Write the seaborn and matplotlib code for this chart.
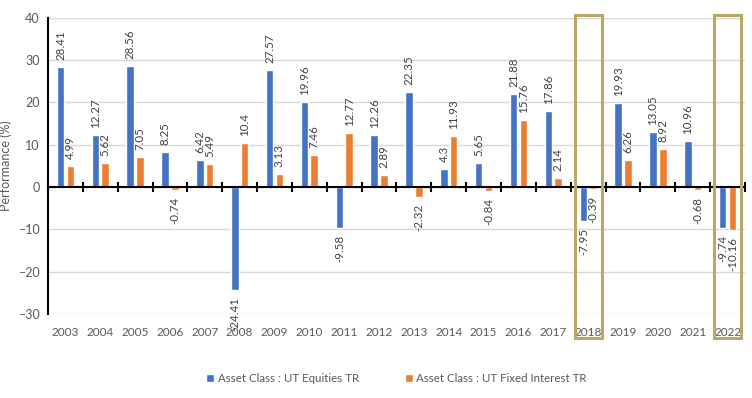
import matplotlib
matplotlib.use("Agg")
import matplotlib.pyplot as plt
from matplotlib.patches import Rectangle
import seaborn as sns
import pandas as pd

years = [str(y) for y in range(2003, 2023)]
equities = [28.41, 12.27, 28.56, 8.25, 6.42, -24.41, 27.57, 19.96, -9.58, 12.26,
            22.35, 4.3, 5.65, 21.88, 17.86, -7.95, 19.93, 13.05, 10.96, -9.74]
fixed = [4.99, 5.62, 7.05, -0.74, 5.49, 10.4, 3.13, 7.46, 12.77, 2.89,
         -2.32, 11.93, -0.84, 15.76, 2.14, -0.39, 6.26, 8.92, -0.68, -10.16]
series_names = ["Asset Class : UT Equities TR", "Asset Class : UT Fixed Interest TR"]
highlight_years = ["2018", "2022"]

df = pd.DataFrame({
    "Year": years * 2,
    "Value": equities + fixed,
    "Series": [series_names[0]] * len(years) + [series_names[1]] * len(years),
})

sns.set_theme(style="white")
plt.rcParams["font.family"] = ["Lato", "DejaVu Sans"]
grey = "#595959"

fig = plt.figure(figsize=(7.52, 3.98), dpi=100)
ax = fig.add_axes([0.0638, 0.211, 0.9269, 0.745])

sns.barplot(data=df, x="Year", y="Value", hue="Series", order=years,
            hue_order=series_names, palette=["#4472C4", "#ED7D31"],
            width=0.56, gap=0.23, ax=ax, saturation=1)

ax.set_ylim(-30, 40)
ax.set_xlim(-0.5, len(years) - 0.5)
ax.set_yticks(range(-30, 41, 10))
ax.yaxis.grid(True, color="#D9D9D9", lw=1)
ax.set_axisbelow(True)
for s in ["top", "right", "bottom"]:
    ax.spines[s].set_visible(False)
ax.spines["left"].set_color("black")
ax.spines["left"].set_linewidth(1.5)
ax.tick_params(axis="y", length=0, labelsize=9, colors=grey, pad=6)
ax.tick_params(axis="x", length=0, labelsize=8.5, colors=grey, pad=9)
ax.set_xlabel("")
ax.set_ylabel("Performance (%)", fontsize=9, color=grey)
ax.yaxis.set_label_coords(-0.052, 0.5)

# zero axis line with crossing ticks
ax.axhline(0, color="black", lw=1.5, zorder=3)
sec = ax.secondary_xaxis(30 / 70)
sec.set_xticks([i - 0.5 for i in range(len(years) + 1)])
sec.tick_params(direction="inout", length=7, width=1.5, labelbottom=False, color="black")
sec.spines["bottom"].set_visible(False)

# data labels
for container in ax.containers:
    for bar, val in zip(container, container.datavalues):
        xc = bar.get_x() + bar.get_width() / 2
        if val >= 0:
            ax.annotate(f"{val:g}", (xc, val), xytext=(0, 5), textcoords="offset points",
                        rotation=90, ha="center", va="bottom", fontsize=8.3, color="#404040")
        else:
            ax.annotate(f"{val:g}", (xc, val), xytext=(0, -5), textcoords="offset points",
                        rotation=90, ha="center", va="top", fontsize=8.3, color="#404040")

# highlight boxes
for hy in highlight_years:
    i = years.index(hy)
    r = Rectangle((i - 0.39, -35.6), 0.78, 76.2, fill=False, edgecolor="#B8A96A",
                  lw=2.2, clip_on=False, zorder=5)
    ax.add_patch(r)

leg = ax.legend(loc="upper center", bbox_to_anchor=(0.5, -0.165), ncol=2, frameon=False,
                fontsize=8.3, handlelength=0.7, handleheight=0.7, handletextpad=0.3,
                columnspacing=4)
for t in leg.get_texts():
    t.set_color(grey)

fig.savefig("out.png", dpi=100)
